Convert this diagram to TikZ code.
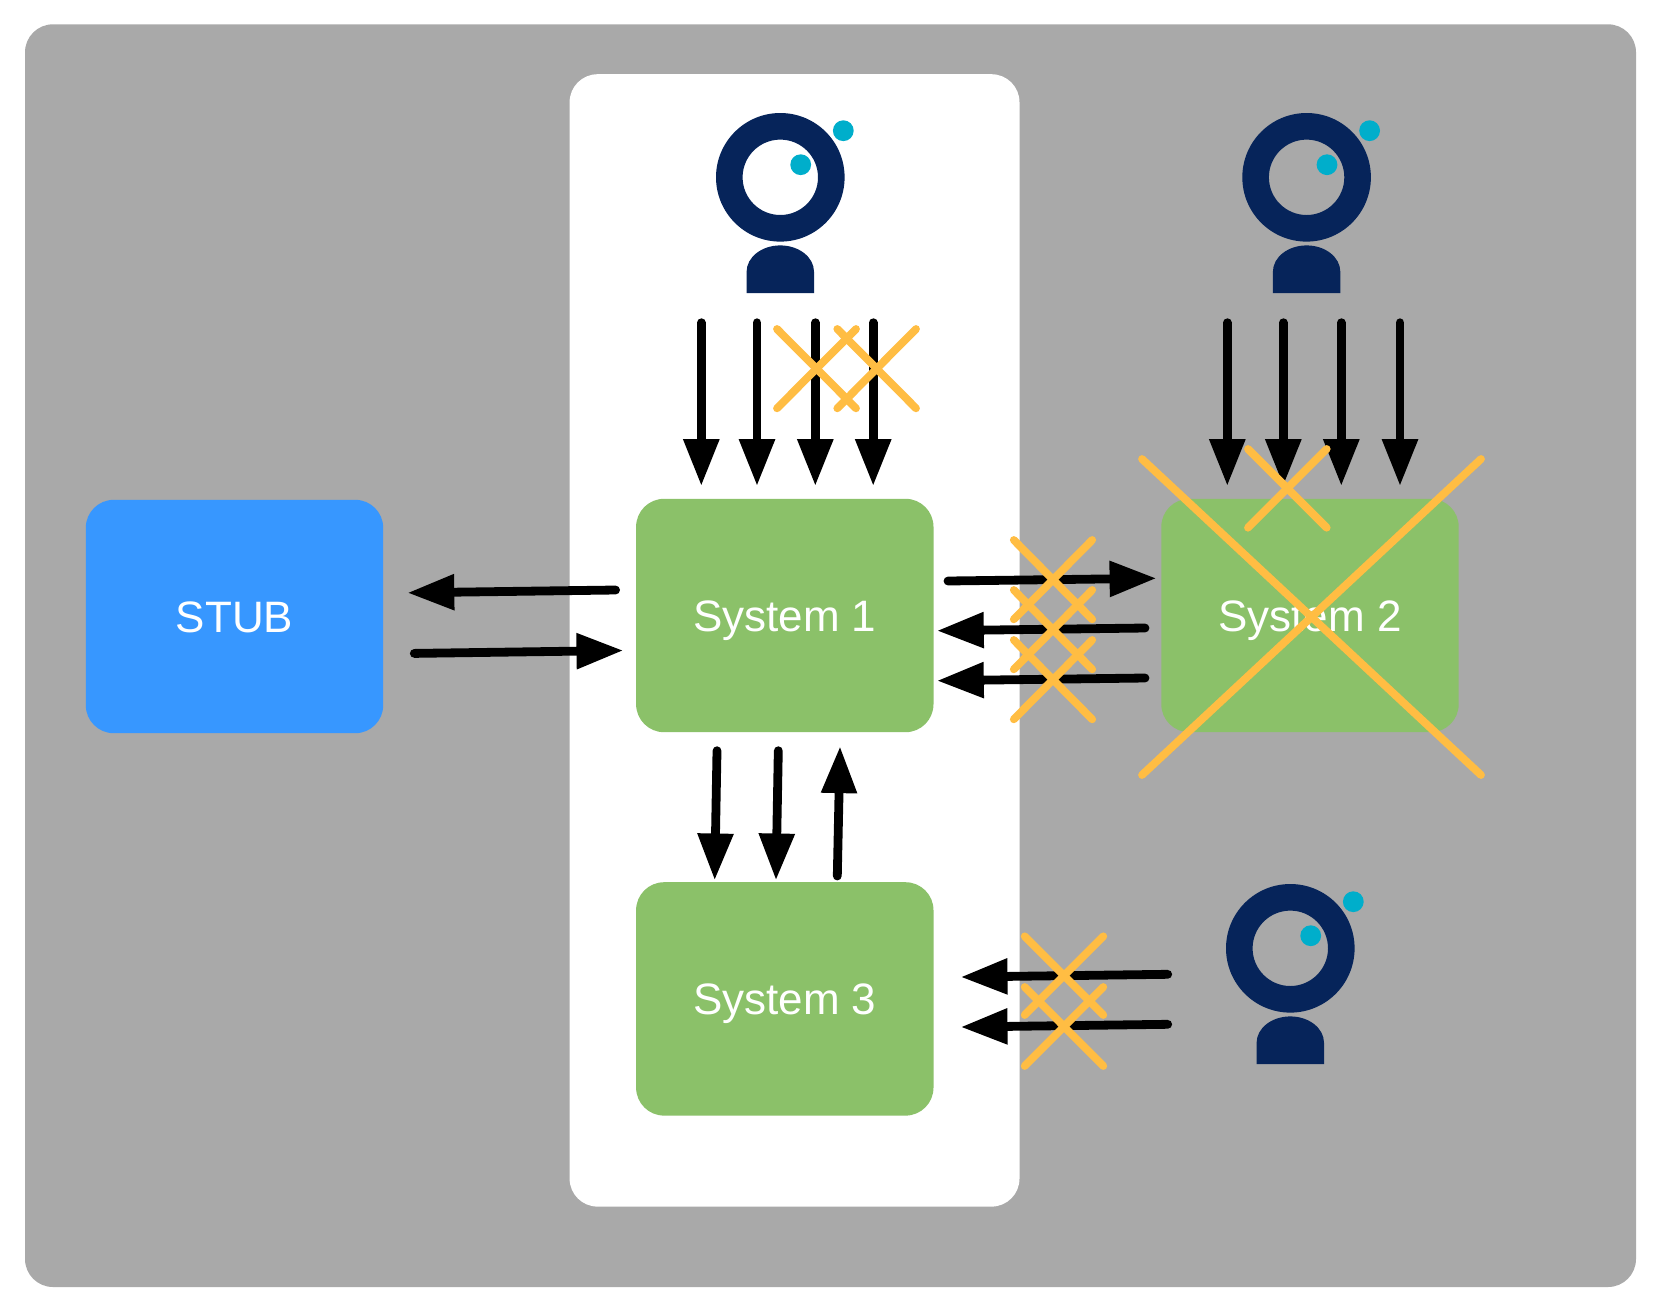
\documentclass[tikz,border=0pt]{standalone}
\usepackage{fontspec}
\setmainfont{Liberation Sans}
\usetikzlibrary{arrows.meta}
\definecolor{panelgray}{HTML}{A9A9A9}
\definecolor{sysgreen}{HTML}{8BC169}
\definecolor{stubblue}{HTML}{3797FF}
\definecolor{navy}{HTML}{06245A}
\definecolor{dotblue}{HTML}{00AECB}
\definecolor{crossorange}{HTML}{FFBD43}
\newcommand{\crossmark}[4]{%
  \draw[crossline] (#1,#2) -- (#3,#4);
  \draw[crossline] (#3,#2) -- (#1,#4);
}
\tikzset{
  box/.style={rectangle,rounded corners=14pt,inner sep=0pt,minimum width=148.7pt,minimum height=116.7pt,
    text=white,font=\fontsize{22}{26}\selectfont,text height=16pt,text depth=0pt},
  sysbox/.style={box,fill=sysgreen},
  stubbox/.style={box,fill=stubblue},
  flow/.style={draw=black,line width=4.4pt,line cap=round,shorten >=-0.5pt,
    -{Triangle[length=23.4pt,width=17pt]}},
  crossline/.style={draw=crossorange,line width=3.9pt,line cap=round},
  person/.pic={
    \fill[navy,even odd rule] (0,0) circle[radius=32.15pt] (0,0) circle[radius=18.85pt];
    \fill[navy] (-33.7,115.7) -- (-33.7,94.4) .. controls (-33.7,79.9) and (-18.6,68.1) .. (0,68.1)
      .. controls (18.6,68.1) and (33.7,79.9) .. (33.7,94.4) -- (33.7,115.7) -- cycle;
    \fill[dotblue] (63,-46.6) circle[radius=5.2pt];
    \fill[dotblue] (20.4,-12.6) circle[radius=5.2pt];
  }
}
\begin{document}
\begin{tikzpicture}[x=0.5pt,y=-0.5pt]
\useasboundingbox (0,0) rectangle (1661,1313);
\fill[white] (0,0) rectangle (1661,1313);
\fill[panelgray,rounded corners=14pt] (25,24.3) rectangle (1636,1287);
\fill[white,rounded corners=14pt] (569.6,74.2) rectangle (1019.5,1206.6);

\node[stubbox] (stub) at (234.5,616.5) {STUB};
\node[sysbox] (sysa) at (784.8,615.5) {System 1};
\node[sysbox] (sysb) at (1310,615.5) {System 2};
\node[sysbox] (sysc) at (784.8,998.9) {System 3};

\pic at (780.3,177.3) {person};
\pic at (1306.6,177.3) {person};
\pic at (1290.3,948.3) {person};

% arrows from person 1
\coordinate (pa1) at (701.3,322.7); \coordinate (pa1e) at (701.3,485);
\coordinate (pa2) at (757,322.7);   \coordinate (pa2e) at (757,485);
\coordinate (pa3) at (815.3,322.7); \coordinate (pa3e) at (815.3,485);
\coordinate (pa4) at (873.2,322.7); \coordinate (pa4e) at (873.2,485);
\draw[flow] (pa1) -- (pa1e);
\draw[flow] (pa2) -- (pa2e);
\draw[flow] (pa3) -- (pa3e);
\draw[flow] (pa4) -- (pa4e);

% arrows from person 2
\coordinate (pb1) at (1227.3,322.7); \coordinate (pb1e) at (1227.3,485);
\coordinate (pb2) at (1283.3,322.7); \coordinate (pb2e) at (1283.3,485);
\coordinate (pb3) at (1341.3,322.7); \coordinate (pb3e) at (1341.3,485);
\coordinate (pb4) at (1400,322.7);   \coordinate (pb4e) at (1400,485);
\draw[flow] (pb1) -- (pb1e);
\draw[flow] (pb2) -- (pb2e);
\draw[flow] (pb3) -- (pb3e);
\draw[flow] (pb4) -- (pb4e);

% stub <-> system 1
\coordinate (sa) at (615.6,590); \coordinate (sae) at (408.5,592.8);
\coordinate (sb) at (414.3,653.4); \coordinate (sbe) at (622.3,650.5);
\draw[flow] (sa) -- (sae);
\draw[flow] (sb) -- (sbe);

% system 1 <-> system 2
\coordinate (ra) at (948,581); \coordinate (rae) at (1155.4,578.3);
\coordinate (rb) at (1145,628); \coordinate (rbe) at (938,630.7);
\coordinate (rc) at (1145,678); \coordinate (rce) at (938,680.7);
\draw[flow] (ra) -- (rae);
\draw[flow] (rb) -- (rbe);
\draw[flow] (rc) -- (rce);

% system 1 <-> system 3
\coordinate (da) at (717,750.7); \coordinate (dae) at (714.7,879.3);
\coordinate (db) at (778.3,750.7); \coordinate (dbe) at (776,879.3);
\coordinate (dc) at (837.3,876); \coordinate (dce) at (840,747.3);
\draw[flow] (da) -- (dae);
\draw[flow] (db) -- (dbe);
\draw[flow] (dc) -- (dce);

% person 3 -> system 3
\coordinate (ca) at (1167.7,974.3); \coordinate (cae) at (961.7,977);
\coordinate (cb) at (1167.7,1024.3); \coordinate (cbe) at (961.7,1027);
\draw[flow] (ca) -- (cae);
\draw[flow] (cb) -- (cbe);

% crosses
\crossmark{777}{329}{856}{408.3}
\crossmark{837.3}{329}{916}{408.3}
\crossmark{1248}{449}{1326.7}{527.7}
\crossmark{1142}{459}{1481}{775}
\crossmark{1013.8}{540}{1092.2}{619.3}
\crossmark{1013.8}{590}{1092.2}{669.3}
\crossmark{1013.8}{640}{1092.2}{719.3}
\crossmark{1024.7}{936.3}{1103.3}{1015}
\crossmark{1024.7}{987}{1103.3}{1066}
\end{tikzpicture}
\end{document}
